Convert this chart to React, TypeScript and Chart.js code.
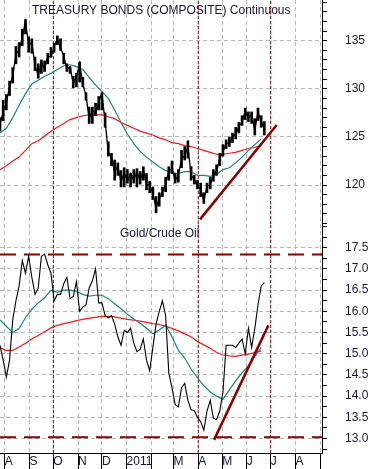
import React, { useEffect, useRef } from "react";
import { Chart, registerables } from "chart.js";

Chart.register(...registerables);

// ---------- x axis: days counted from 1 Aug 2010 ----------
const X_MIN = -6;
const X_MAX = 398.4;
const monthDays = [0, 31, 61, 92, 122, 153, 184, 212, 243, 273, 304, 334, 365, 396];
const monthLabels = ["A", "S", "O", "N", "D", "2011", "", "M", "A", "M", "J", "J", "A", ""];
const markerDays = [61, 243, 334];

const priceStartDay = -6;
const priceStepDays = 4;
const maStartDay = -6;
const maStepDays = 8;

// ---------- Treasury bonds panel ----------
const bondPrices = [
  126.3, 127.6, 128.6, 130.2, 131.3, 133.6, 134.0, 135.4, 137.0, 134.6,
  134.8, 132.4, 131.4, 132.8, 132.0, 133.4, 133.3, 134.4, 135.2, 134.2,
  133.5, 132.0, 132.3, 130.5, 131.3, 132.6, 130.5, 129.3, 126.9, 127.8,
  127.4, 128.7, 129.5, 126.6, 123.4, 122.9, 121.3, 122.0, 120.3, 121.3,
  120.4, 121.2, 120.5, 121.4, 120.4, 121.6, 120.1, 120.0, 119.1, 117.6,
  118.6, 119.2, 120.1, 121.5, 121.7, 120.5, 121.0, 122.8, 123.0, 124.0,
  121.0, 120.6, 119.9, 119.6, 118.3, 119.9, 120.0, 121.1, 121.4, 122.8,
  123.4, 124.4, 124.3, 125.1, 125.3, 126.1, 126.5, 127.7, 127.0, 127.3,
  125.7, 127.6, 126.6, 125.8,
];
const bondLows = [
  125.6, 126.7, 127.8, 129.3, 130.6, 132.6, 133.3, 134.5, 135.7, 133.8,
  133.7, 131.9, 131.1, 131.6, 131.8, 132.6, 133.3, 133.8, 134.6, 134.0,
  132.6, 131.8, 131.6, 130.1, 130.2, 130.7, 130.2, 128.8, 126.4, 126.4,
  127.2, 127.8, 127.8, 126.0, 123.0, 122.0, 120.5, 121.0, 119.8, 119.8,
  120.2, 119.8, 120.2, 119.8, 120.1, 120.5, 119.5, 119.2, 118.5, 117.1,
  117.8, 118.8, 119.3, 120.5, 121.2, 120.2, 120.3, 121.8, 122.6, 122.8,
  120.5, 120.1, 119.6, 118.8, 118.1, 119.2, 119.6, 120.4, 121.0, 122.0,
  123.0, 123.8, 124.0, 124.4, 124.8, 125.4, 126.2, 126.8, 126.6, 126.4,
  125.2, 126.7, 126.0, 125.2,
];
const bondHighs = [
  127.0, 128.8, 129.4, 130.8, 132.2, 134.4, 134.8, 136.2, 137.2, 135.4,
  135.2, 133.3, 132.6, 133.0, 132.9, 133.7, 134.3, 134.7, 135.5, 135.2,
  133.7, 132.6, 132.3, 131.3, 131.6, 132.8, 131.2, 129.6, 128.1, 128.1,
  128.5, 129.2, 129.6, 127.5, 124.5, 123.3, 122.6, 122.3, 121.5, 121.8,
  121.6, 121.2, 121.6, 121.7, 121.4, 121.9, 121.2, 120.4, 119.8, 118.8,
  119.2, 119.8, 120.8, 121.9, 122.5, 121.2, 121.6, 123.6, 124.0, 124.6,
  121.9, 121.0, 120.5, 120.2, 119.2, 120.2, 120.8, 121.6, 122.1, 123.3,
  124.2, 124.7, 125.0, 125.4, 126.0, 126.5, 127.2, 128.0, 127.6, 127.6,
  126.9, 128.0, 127.2, 126.6,
];
const bondMA50 = [
  125.4, 125.9, 127.0, 128.3, 129.5, 130.5, 130.9, 131.3, 131.6, 132.0,
  132.4, 132.5, 132.3, 132.0, 131.2, 130.4, 129.7, 129.0, 127.8, 126.5,
  125.3, 124.3, 123.5, 122.9, 122.4, 121.9, 121.5, 121.3, 121.2, 121.4,
  121.4, 121.0, 121.0, 120.9, 121.1, 121.6, 121.8, 122.3, 122.9, 123.6,
  124.2, 124.8,
];
const bondMA200 = [
  121.6, 122.0, 122.5, 122.9, 123.6, 124.3, 124.6, 125.1, 125.6, 126.0,
  126.4, 126.8, 127.0, 127.2, 127.3, 127.3, 127.3, 127.1, 126.9, 126.5,
  126.2, 125.9, 125.6, 125.4, 125.2, 124.9, 124.7, 124.4, 124.3, 124.1,
  124.0, 123.8, 123.6, 123.4, 123.2, 123.2, 123.3, 123.4, 123.6, 123.8,
  123.9, 124.1,
];
const bondTrendDays = [245.2, 341.5];
const bondTrendValues = [116.43, 126.24];
const bondTickLabels = ["120", "125", "130", "135"];
const bondRange = [115.95, 139.23];

// ---------- Gold / Crude oil panel ----------
const ratioPrices = [
  15.2, 14.85, 14.45, 14.85, 15.8, 16.25, 16.6, 17.2, 16.9, 17.3,
  16.8, 16.4, 16.55, 17.3, 17.35, 17.1, 16.9, 16.25, 16.4, 16.4,
  16.65, 16.8, 16.3, 16.35, 16.7, 16.0, 16.1, 16.15, 16.55, 16.72,
  17.0, 16.2, 16.2, 15.9, 15.85, 15.9, 15.7, 15.4, 15.2, 15.55,
  15.5, 15.6, 15.25, 15.05, 15.1, 15.35, 14.85, 14.6, 15.15, 15.7,
  16.0, 16.25, 15.9, 14.55, 14.2, 13.8, 13.75, 14.2, 14.3, 13.9,
  13.68, 13.66, 13.5, 13.4, 13.2, 13.65, 13.9, 13.48, 13.45, 13.65,
  14.1, 15.2, 15.2, 15.2, 15.15, 15.25, 15.35, 15.0, 15.6, 15.15,
  15.6, 16.15, 16.6, 16.68,
];
const ratioMA50 = [
  15.8, 15.65, 15.5, 15.6, 15.85, 16.05, 16.2, 16.32, 16.5, 16.45,
  16.5, 16.5, 16.47, 16.4, 16.36, 16.38, 16.38, 16.3, 16.18, 16.06,
  15.93, 15.82, 15.72, 15.6, 15.47, 15.56, 15.68, 15.4, 15.08, 14.9,
  14.64, 14.43, 14.25, 14.1, 14.0, 13.93, 14.15, 14.36, 14.55, 14.72,
  14.93, 15.15,
];
const ratioMA200 = [
  15.14, 15.08, 15.08, 15.16, 15.25, 15.35, 15.43, 15.52, 15.61, 15.67,
  15.71, 15.74, 15.78, 15.81, 15.84, 15.86, 15.88, 15.88, 15.87, 15.84,
  15.81, 15.79, 15.77, 15.74, 15.71, 15.69, 15.65, 15.6, 15.54, 15.47,
  15.4, 15.29, 15.21, 15.13, 15.03, 14.97, 14.95, 14.94, 14.97, 14.99,
  15.03, 15.07,
];
const ratioLevels = [17.34, 13.03];
const ratioTrendDays = [262.8, 331.0];
const ratioTrendValues = [12.97, 15.67];
const ratioTickLabels = ["13.0", "13.5", "14.0", "14.5", "15.0", "15.5", "16.0", "16.5", "17.0", "17.5"];
const ratioRange = [12.66, 18.06];

// ---------- styles ----------
const FONT = "'Liberation Sans', Arial, Helvetica, sans-serif";
const TEXT = "#15153c";
const GRID = "#b8b8b8";
const TEAL = "#17877a";
const RED = "#ff1414";
const DARKRED = "#8b0000";
const AXIS_W = 49;

const series = (start: number, step: number, values: number[]) =>
  values.map((v, i) => ({ x: start + step * i, y: v }));

const line = (data: any[], color: string, width: number, dash: number[] = []) => ({
  type: "line",
  data,
  borderColor: color,
  backgroundColor: color,
  borderWidth: width,
  borderDash: dash,
  pointRadius: 0,
  fill: false,
  tension: 0,
});

const rangeBars = (start: number, step: number, lows: number[], highs: number[]) => ({
  type: "bar",
  data: lows.map((lo, i) => ({ x: start + step * i, y: [lo, highs[i]] })),
  backgroundColor: "#000",
  borderWidth: 0,
  barThickness: 2,
  grouped: false,
});

function titlePlugin(text: string, x: number, y: number) {
  return {
    id: "panelTitle",
    beforeDatasetsDraw(chart: any) {
      const ctx = chart.ctx;
      ctx.save();
      ctx.font = `12px ${FONT}`;
      ctx.fillStyle = TEXT;
      ctx.textBaseline = "middle";
      ctx.textAlign = "left";
      ctx.fillText(text, x, y);
      ctx.restore();
    },
  };
}

function makeConfig(p: {
  datasets: any[];
  range: number[];
  minorStep: number;
  labels: string[];
  showX: boolean;
  title: string;
  titleX: number;
  titleY: number;
}) {
  const [yMin, yMax] = p.range;
  const majors = p.labels.map((s) => parseFloat(s));
  const minor: number[] = [];
  for (let k = Math.ceil(yMin / p.minorStep); k * p.minorStep <= yMax; k++) {
    minor.push(Math.round(k * p.minorStep * 1000) / 1000);
  }
  const majorIndex = (v: number) => majors.findIndex((m) => Math.abs(m - v) < 1e-6);

  const xScale: any = {
    type: "linear",
    position: "bottom",
    min: X_MIN,
    max: X_MAX,
    offset: false,
    afterBuildTicks: (s: any) => {
      s.ticks = monthDays.map((v) => ({ value: v }));
    },
    afterFit: (s: any) => {
      s.height = p.showX ? 16 : 0;
      s.paddingLeft = 0;
      s.paddingRight = 0;
    },
    ticks: {
      display: p.showX,
      autoSkip: false,
      maxRotation: 0,
      minRotation: 0,
      align: "start",
      padding: -15,
      color: TEXT,
      font: { family: FONT, size: 12 },
      callback: (_v: any, i: number) => monthLabels[i],
    },
    grid: {
      offset: false,
      color: GRID,
      lineWidth: 1,
      drawTicks: p.showX,
      tickLength: 16,
      tickColor: "#000",
      tickWidth: 1,
    },
    border: { display: true, color: "#000", width: 1, dash: [4, 3] },
  };

  const yScale: any = {
    type: "linear",
    position: "right",
    min: yMin,
    max: yMax,
    afterBuildTicks: (s: any) => {
      s.ticks = minor.map((v) => ({ value: v }));
    },
    afterFit: (s: any) => {
      s.width = AXIS_W;
      s.paddingTop = 0;
      s.paddingBottom = 0;
    },
    ticks: {
      autoSkip: false,
      padding: 18,
      color: TEXT,
      font: { family: FONT, size: 12 },
      callback: (v: number) => {
        const i = majorIndex(v);
        return i >= 0 ? p.labels[i] : "";
      },
    },
    grid: {
      color: (ctx: any) => (ctx.tick && majorIndex(ctx.tick.value) >= 0 ? GRID : "rgba(0,0,0,0)"),
      lineWidth: 1,
      drawTicks: true,
      tickLength: 5,
      tickColor: "#000",
      tickWidth: 1,
    },
    border: { display: true, color: "#000", width: 1, dash: [4, 3] },
  };

  return {
    type: "line",
    data: { datasets: p.datasets },
    options: {
      animation: false,
      responsive: false,
      maintainAspectRatio: false,
      events: [],
      layout: { padding: 0 },
      plugins: {
        legend: { display: false },
        tooltip: { enabled: false },
        title: { display: false },
      },
      scales: { x: xScale, y: yScale },
    },
    plugins: [titlePlugin(p.title, p.titleX, p.titleY)],
  } as any;
}

function markerSets(yMin: number, yMax: number) {
  return markerDays.map((d) =>
    line([{ x: d, y: yMin }, { x: d, y: yMax }], DARKRED, 1, [3, 2])
  );
}

function topConfig() {
  const [yMin, yMax] = bondRange;
  const datasets = [
    line(bondTrendDays.map((d, i) => ({ x: d, y: bondTrendValues[i] })), DARKRED, 2.5),
    rangeBars(priceStartDay, priceStepDays, bondLows, bondHighs),
    line(series(priceStartDay, priceStepDays, bondPrices), "#000", 1.3),
    line(series(maStartDay, maStepDays, bondMA50), TEAL, 1.2),
    line(series(maStartDay, maStepDays, bondMA200), RED, 1.2),
    ...markerSets(yMin, yMax),
  ];
  return makeConfig({
    datasets,
    range: bondRange,
    minorStep: 1,
    labels: bondTickLabels,
    showX: false,
    title: "TREASURY BONDS (COMPOSITE) Continuous",
    titleX: 32,
    titleY: 11,
  });
}

function bottomConfig() {
  const [yMin, yMax] = ratioRange;
  const datasets = [
    line(ratioTrendDays.map((d, i) => ({ x: d, y: ratioTrendValues[i] })), DARKRED, 2.5),
    line(series(priceStartDay, priceStepDays, ratioPrices), "#000", 1.1),
    line(series(maStartDay, maStepDays, ratioMA50), TEAL, 1.2),
    line(series(maStartDay, maStepDays, ratioMA200), RED, 1.2),
    ...ratioLevels.map((lv) =>
      line([{ x: X_MIN, y: lv }, { x: X_MAX, y: lv }], DARKRED, 2, [16, 8])
    ),
    ...markerSets(yMin, yMax),
  ];
  return makeConfig({
    datasets,
    range: ratioRange,
    minorStep: 0.25,
    labels: ratioTickLabels,
    showX: true,
    title: "Gold/Crude Oil",
    titleX: 120,
    titleY: 10,
  });
}

export default function App() {
  const topRef = useRef<HTMLCanvasElement>(null);
  const botRef = useRef<HTMLCanvasElement>(null);

  useEffect(() => {
    const c1 = new Chart(topRef.current as HTMLCanvasElement, topConfig());
    const c2 = new Chart(botRef.current as HTMLCanvasElement, bottomConfig());
    return () => {
      c1.destroy();
      c2.destroy();
    };
  }, []);

  return (
    <div style={{ position: "fixed", left: 0, top: 0, width: 371, height: 469, background: "#fff" }}>
      <canvas
        ref={topRef}
        width={371}
        height={224}
        style={{ position: "absolute", left: 0, top: 0, display: "block" }}
      />
      <canvas
        ref={botRef}
        width={371}
        height={245}
        style={{ position: "absolute", left: 0, top: 224, display: "block" }}
      />
    </div>
  );
}
